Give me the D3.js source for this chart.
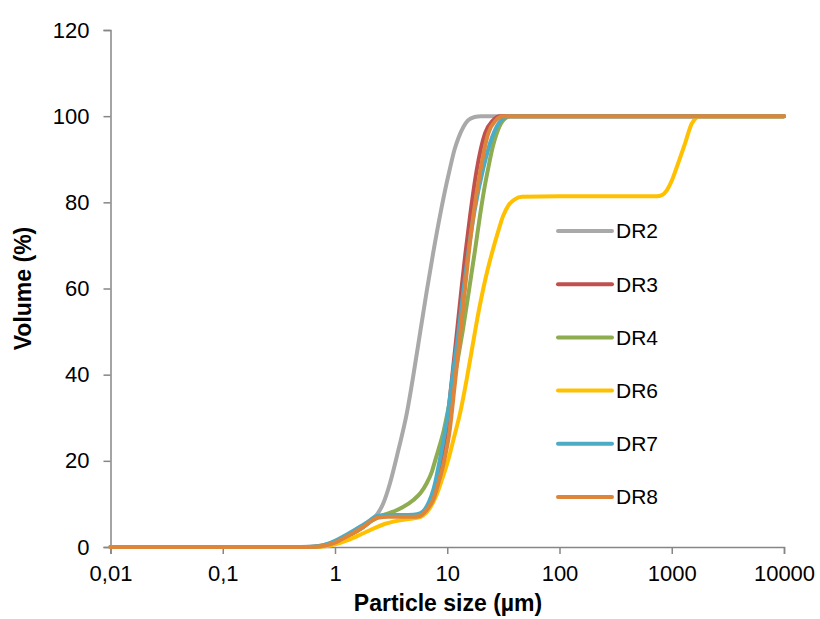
<!DOCTYPE html>
<html>
<head>
<meta charset="utf-8">
<script src="https://cdn.jsdelivr.net/npm/d3@7"></script>
<style>
  html, body { margin: 0; padding: 0; background: #ffffff; }
  svg { display: block; }
  text { font-family: "Liberation Sans", Arial, sans-serif; fill: #000; }
</style>
</head>
<body>
<svg id="chart" width="820" height="619"></svg>
<script>
// Cumulative particle size distributions (volume %), by sample
const seriesNames = ["DR2", "DR3", "DR4", "DR6", "DR7", "DR8"];
const seriesColors = ["#A9A9A9", "#C0504D", "#8EAC50", "#FFC000", "#4BACC6", "#DE8539"];

const dr2Size = [0.01, 0.5, 0.65, 0.8, 1.0, 1.3, 1.7, 2.0, 2.28, 2.7, 3.09, 3.67, 4.36, 5.0, 5.72, 6.53, 7.52, 8.75, 9.9, 10.6, 11.6, 12.6, 14.0, 15.3, 17.5, 20, 10000];
const dr2Vol  = [0, 0, 0.1, 0.5, 1.3, 2.7, 4.4, 5.7, 7.0, 10.2, 14.8, 22.5, 31.0, 40.0, 49.6, 59.0, 68.5, 77.8, 84.6, 88.0, 92.2, 95.0, 97.6, 99.0, 99.8, 100, 100];

const dr3Size = [0.01, 0.6, 0.8, 1.0, 1.11, 1.4, 1.79, 2.1, 2.4, 3.0, 4.0, 5.0, 5.7, 6.5, 7.5, 8.33, 8.9, 9.85, 10.9, 12.1, 13.4, 14.5, 16.0, 18.3, 21.7, 25.5, 29.6, 10000];
const dr3Vol  = [0, 0, 0.3, 1.0, 1.6, 3.0, 4.7, 6.1, 7.0, 7.3, 7.3, 7.3, 7.5, 8.8, 12.0, 17.0, 20.5, 27.5, 38.0, 49.0, 60.0, 68.0, 77.0, 87.5, 96.0, 99.0, 100, 100];

const dr4Size = [0.01, 0.6, 0.8, 1.0, 1.11, 1.4, 1.79, 2.1, 2.36, 2.8, 3.31, 4.0, 4.99, 5.8, 6.56, 7.3, 7.79, 8.33, 9.3, 10.3, 11.3, 12.4, 13.7, 15.6, 17.7, 19.6, 21.5, 23.2, 25.5, 27.6, 31, 36.3, 10000];
const dr4Vol  = [0, 0, 0.3, 1.0, 1.6, 3.0, 4.7, 6.0, 6.8, 7.6, 8.2, 9.2, 10.9, 12.6, 14.8, 17.5, 20.0, 22.5, 27.0, 32.5, 38.0, 43.5, 50.0, 59.5, 69.0, 77.0, 83.5, 88.0, 93.0, 96.0, 98.8, 100, 100];

const dr6Size = [0.01, 0.65, 0.85, 1.0, 1.3, 1.79, 2.3, 2.8, 3.31, 4.2, 5.17, 6.0, 7.0, 8.0, 8.93, 10.2, 11.5, 13.0, 14.8, 16.5, 19, 21.7, 25, 28.6, 31.4, 35.1, 40, 46.2, 100, 736, 820, 904, 1000, 1110, 1315, 1510, 1790, 10000];
const dr6Vol  = [0, 0, 0.2, 0.6, 1.6, 3.2, 4.5, 5.4, 5.9, 6.4, 6.7, 7.2, 9.0, 12.0, 15.5, 20.2, 25.5, 31.0, 38.5, 45.5, 54.5, 61.8, 68.2, 73.5, 76.8, 79.3, 80.7, 81.3, 81.4, 81.4, 81.7, 82.8, 85.0, 88.2, 93.7, 98.3, 100, 100];

const dr7Size = [0.01, 0.55, 0.75, 0.9, 1.035, 1.3, 1.67, 2.0, 2.36, 3.0, 4.0, 5.0, 5.72, 6.56, 7.79, 8.33, 8.93, 10.0, 11.2, 12.6, 14.0, 15.5, 17.5, 21.0, 25, 29, 34.8, 10000];
const dr7Vol  = [0, 0, 0.3, 0.9, 1.6, 3.0, 4.7, 6.0, 7.2, 7.4, 7.4, 7.5, 7.8, 9.4, 14.8, 18.5, 22.5, 30.0, 40.0, 50.0, 60.0, 69.0, 78.0, 88.0, 95.0, 98.5, 100, 100];

const dr8Size = [0.01, 0.6, 0.8, 1.0, 1.11, 1.4, 1.79, 2.1, 2.4, 3.0, 4.0, 5.0, 5.7, 6.5, 7.5, 8.33, 9.42, 10.5, 11.7, 13.0, 14.4, 15.5, 17.1, 19.6, 23.2, 27, 31.4, 10000];
const dr8Vol  = [0, 0, 0.3, 1.0, 1.6, 3.0, 4.7, 6.0, 6.8, 7.0, 7.0, 7.0, 7.2, 8.5, 11.0, 14.8, 20.2, 27.0, 38.0, 49.0, 60.0, 68.0, 77.0, 87.0, 96.0, 99.0, 100, 100];

const sizeArrays = [dr2Size, dr3Size, dr4Size, dr6Size, dr7Size, dr8Size];
const volArrays  = [dr2Vol, dr3Vol, dr4Vol, dr6Vol, dr7Vol, dr8Vol];

const xTickValues = [0.01, 0.1, 1, 10, 100, 1000, 10000];
const xTickLabels = ["0,01", "0,1", "1", "10", "100", "1000", "10000"];
const yTickValues = [0, 20, 40, 60, 80, 100, 120];

const xTitle = "Particle size (µm)";
const yTitle = "Volume (%)";

// Layout
const svg = d3.select("#chart");
const margin = { left: 110.5, right: 36, top: 30, bottom: 72 };
const W = 820, H = 619;
const x = d3.scaleLog().domain([0.01, 10000]).range([margin.left, W - margin.right]);
const y = d3.scaleLinear().domain([0, 120]).range([H - margin.bottom, margin.top]);

const axisColor = "#868686";

// Axes
const xAxis = d3.axisBottom(x)
  .tickValues(xTickValues)
  .tickFormat((d, i) => xTickLabels[i])
  .tickSize(7)
  .tickPadding(11);
const gx = svg.append("g")
  .attr("transform", `translate(0,${y(0)})`)
  .call(xAxis);

const yAxis = d3.axisLeft(y)
  .tickValues(yTickValues)
  .tickSize(7)
  .tickPadding(14);
const gy = svg.append("g")
  .attr("transform", `translate(${x(0.01)},0)`)
  .call(yAxis);

[gx, gy].forEach(g => {
  g.select(".domain").attr("stroke", axisColor).attr("stroke-width", 1.5);
  g.selectAll(".tick line").attr("stroke", axisColor).attr("stroke-width", 1.5);
  g.selectAll(".tick text")
    .attr("fill", "#000")
    .style("font-family", "'Liberation Sans', Arial, sans-serif")
    .style("font-size", "22px");
});

// Axis titles
svg.append("text")
  .attr("x", 448)
  .attr("y", 611)
  .attr("text-anchor", "middle")
  .style("font-size", "23px")
  .style("font-weight", "bold")
  .text(xTitle);

svg.append("text")
  .attr("transform", `translate(31,${y(60)}) rotate(-90)`)
  .attr("text-anchor", "middle")
  .style("font-size", "23px")
  .style("font-weight", "bold")
  .text(yTitle);

// Curves
const line = d3.line()
  .x(d => x(d[0]))
  .y(d => y(d[1]))
  .curve(d3.curveMonotoneX);

const plot = svg.append("g");
seriesNames.forEach((name, i) => {
  const pts = sizeArrays[i].map((s, j) => [s, volArrays[i][j]]);
  plot.append("path")
    .datum(pts)
    .attr("fill", "none")
    .attr("stroke", seriesColors[i])
    .attr("stroke-width", 4)
    .attr("stroke-linejoin", "round")
    .attr("stroke-linecap", "round")
    .attr("d", line);
});

// Legend
const legend = svg.append("g");
seriesNames.forEach((name, i) => {
  const ly = 231 + i * 53.2;
  legend.append("line")
    .attr("x1", 558).attr("x2", 612)
    .attr("y1", ly).attr("y2", ly)
    .attr("stroke", seriesColors[i])
    .attr("stroke-width", 4)
    .attr("stroke-linecap", "round");
  legend.append("text")
    .attr("x", 616)
    .attr("y", ly)
    .attr("dy", "0.35em")
    .style("font-size", "21px")
    .text(name);
});
</script>
</body>
</html>
